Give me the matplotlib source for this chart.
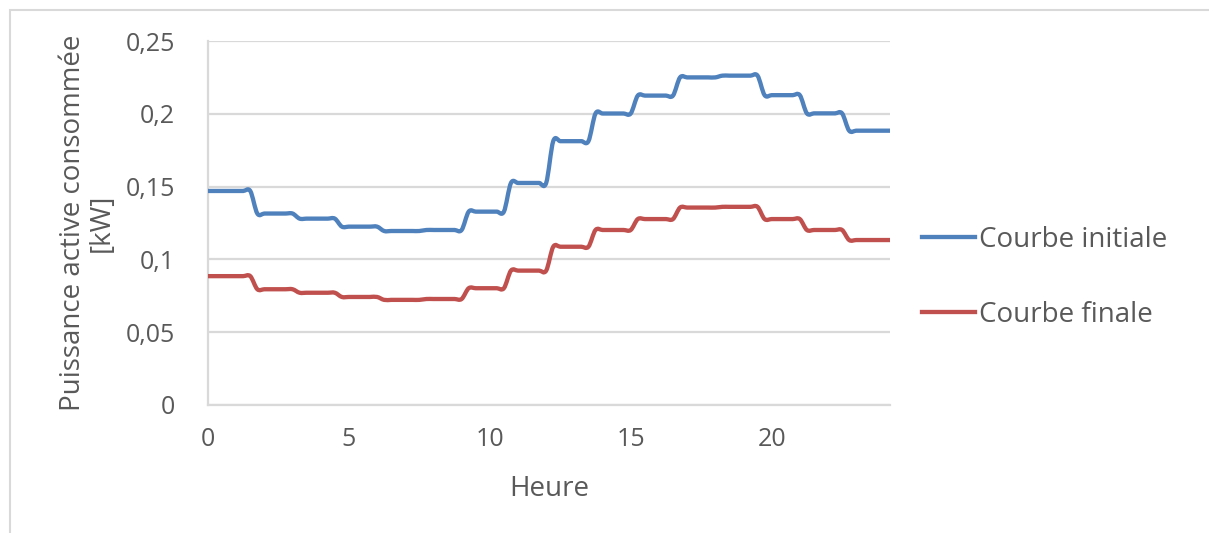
import numpy as np
import matplotlib
matplotlib.use("Agg")
import matplotlib.pyplot as plt
from matplotlib.path import Path
from matplotlib.patches import PathPatch, Rectangle
from matplotlib.lines import Line2D

# ---- data ----
series_names = ["Courbe initiale", "Courbe finale"]
# value of each 1.5-hour block (16 blocks over the day), kW
initial_levels = [0.147, 0.1315, 0.128, 0.1225, 0.1195, 0.1202, 0.1328, 0.1525,
                  0.1812, 0.2002, 0.2125, 0.2250, 0.2262, 0.2128, 0.2003, 0.1884]
final_levels = [0.0885, 0.0795, 0.0771, 0.0742, 0.0722, 0.0728, 0.0802, 0.0923,
                0.1087, 0.1202, 0.1277, 0.1356, 0.1361, 0.1277, 0.1202, 0.1133]
block_hours = 1.5
sample_step = 0.25          # quarter-hour samples
last_hour = 24.25
x_ticks = [0, 5, 10, 15, 20]
y_ticks = [0, 0.05, 0.1, 0.15, 0.2, 0.25]
y_tick_labels = ["0", "0,05", "0,1", "0,15", "0,2", "0,25"]
colors = ["#4F81BD", "#C0504D"]

hours = np.arange(0, last_hour + 1e-9, sample_step)


def build(levels):
    idx = np.maximum(0, np.ceil(hours / block_hours - 1e-9).astype(int) - 1)
    idx = np.minimum(idx, len(levels) - 1)
    return np.asarray(levels)[idx]


def smooth_path(x, y):
    # Excel-like smoothed line: Catmull-Rom as cubic Bezier segments
    P = np.column_stack([x, y])
    Pext = np.vstack([P[0], P, P[-1]])
    verts = [P[0]]
    codes = [Path.MOVETO]
    for i in range(len(P) - 1):
        p0, p1, p2, p3 = Pext[i], Pext[i + 1], Pext[i + 2], Pext[i + 3]
        c1 = p1 + (p2 - p0) / 6.0
        c2 = p2 - (p3 - p1) / 6.0
        verts += [c1, c2, p2]
        codes += [Path.CURVE4] * 3
    return Path(np.array(verts), codes)


plt.rcParams['font.family'] = ['Open Sans', 'DejaVu Sans']
text_color = "#595959"
grid_color = "#D9D9D9"
fs_tick = 18
fs_lab = 20

fig = plt.figure(figsize=(12.09, 5.33), dpi=100)
ax = fig.add_axes([208 / 1209, 1 - 405 / 533, (890 - 208) / 1209, (405 - 41) / 533])

handles = []
for levels, name, col in zip([initial_levels, final_levels], series_names, colors):
    yv = build(levels)
    patch = PathPatch(smooth_path(hours, yv), facecolor='none', edgecolor=col,
                      lw=3.1, capstyle='round', joinstyle='round', zorder=3)
    ax.add_patch(patch)
    handles.append(Line2D([0], [0], color=col, lw=3.1, label=name))

ax.set_xlim(0, 24.2)
ax.set_ylim(0, 0.25)
ax.set_xticks(x_ticks)
ax.set_yticks(y_ticks)
ax.set_yticklabels(y_tick_labels)
ax.tick_params(axis='both', length=0, labelsize=fs_tick, colors=text_color)
ax.tick_params(axis='y', pad=24)
ax.tick_params(axis='x', pad=16)
ax.grid(axis='y', color=grid_color, lw=1.6, zorder=0)
for s in ['top', 'right']:
    ax.spines[s].set_visible(False)
for s in ['left', 'bottom']:
    ax.spines[s].set_color(grid_color)
    ax.spines[s].set_linewidth(1.6)
ax.set_axisbelow(True)

ax.set_ylabel("Puissance active consommée\n[kW]", fontsize=fs_lab, color=text_color,
              va='center', linespacing=1.05)
ax.yaxis.set_label_coords(-0.177, 0.5)
ax.set_xlabel("Heure", fontsize=fs_lab, color=text_color, va='center')
ax.xaxis.set_label_coords(0.5, -0.231)

leg = ax.legend(handles=handles, loc='center left', bbox_to_anchor=(1.047, 0.35),
                frameon=False, fontsize=fs_lab, handlelength=1.9, handletextpad=0.15,
                labelspacing=1.7, labelcolor=text_color, borderaxespad=0,
                borderpad=0)

fig.patches.append(Rectangle((10 / 1209, -0.01), 1.0, 1 - 10 / 533 + 0.01,
                             transform=fig.transFigure, fill=False,
                             edgecolor=grid_color, lw=1.5))

fig.savefig("out.png", dpi=100)
